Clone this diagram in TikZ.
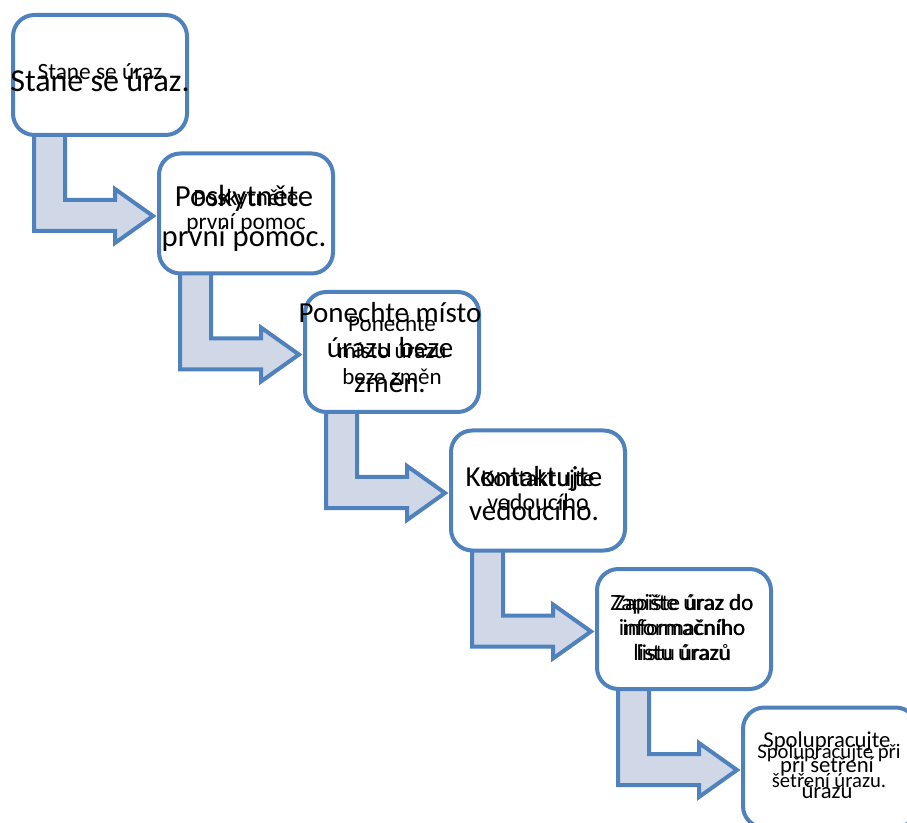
\documentclass[tikz,border=0pt]{standalone}
\usepackage{fontspec}
\setmainfont{Carlito}
\definecolor{stepblue}{RGB}{79,129,189}
\definecolor{steplight}{RGB}{208,216,232}
\begin{document}
\begin{tikzpicture}[x=0.75pt,y=-0.75pt,line join=round,
	stepbox/.style={draw=stepblue,line width=3pt,fill=white,rounded corners=16pt,minimum width=130.5pt,minimum height=90pt,inner sep=0pt},
	bentarrow/.style={draw=stepblue,line width=3pt,fill=steplight,line join=miter},
	txt/.style={anchor=base,align=center,inner sep=0pt,font=#1}]
	\useasboundingbox (0,0) rectangle (907,823);
	\clip (0,0) rectangle (907,823);
	\foreach \i in {0,...,4}{
		\pgfmathsetmacro{\cx}{100+146*\i}
		\pgfmathsetmacro{\cy}{75+138.5*\i}
		\draw[bentarrow] (\cx-66,\cy+59) -- (\cx-35,\cy+59) -- (\cx-35,\cy+125) -- (\cx+15,\cy+125) -- (\cx+15,\cy+114) -- (\cx+53,\cy+141) -- (\cx+15,\cy+168) -- (\cx+15,\cy+156) -- (\cx-66,\cy+156) -- cycle;
	}
	\node[stepbox] (s1) at (100,75) {};
	\node[stepbox] (s2) at (246,213.5) {};
	\node[stepbox] (s3) at (392,352) {};
	\node[stepbox] (s4) at (538,490.5) {};
	\node[stepbox] (s5) at (684,629) {};
	\node[stepbox] (s6) at (830,767.5) {};
	\node[txt={\fontsize{17.5}{19}\selectfont}] (t1b) at (100,80) {Stane se úraz};
	\node[txt={\fontsize{24}{29}\selectfont}] (t1a) at (100,92) {Stane se úraz.};
	\node[txt={\fontsize{17.5}{18}\selectfont}] (t2b) at (246,230) {Poskytněte\\první pomoc};
	\node[txt={\fontsize{23}{30}\selectfont}] (t2a) at (244,247) {Poskytněte\\první pomoc.};
	\node[txt={\fontsize{17.25}{20}\selectfont}] (t3b) at (392,385) {Ponechte\\místo úrazu\\beze změn};
	\node[txt={\fontsize{21.75}{26.25}\selectfont}] (t3a) at (390,393) {Ponechte místo\\úrazu beze\\změn.};
	\node[txt={\fontsize{18}{17.25}\selectfont}] (t4b) at (538,510) {Kontaktujte\\vedoucího};
	\node[txt={\fontsize{21.75}{24.75}\selectfont}] (t4a) at (534,520) {Kontaktujte\\vedoucího.};
	\node[txt={\fontsize{17}{18.75}\selectfont}] (t5b) at (684,660) {Zapište úraz do\\informačního\\listu úrazů};
	\node[txt={\fontsize{17.5}{18.75}\selectfont}] (t5a) at (682,660) {Zapište úraz do\\informačního\\listu úrazu};
	\node[txt={\fontsize{15.5}{21.75}\selectfont}] (t6b) at (829,787) {Spolupracujte při\\šetření úrazu.};
	\node[txt={\fontsize{17}{19}\selectfont}] (t6a) at (827,798) {Spolupracujte\\při šetření\\úrazu};
\end{tikzpicture}
\end{document}
